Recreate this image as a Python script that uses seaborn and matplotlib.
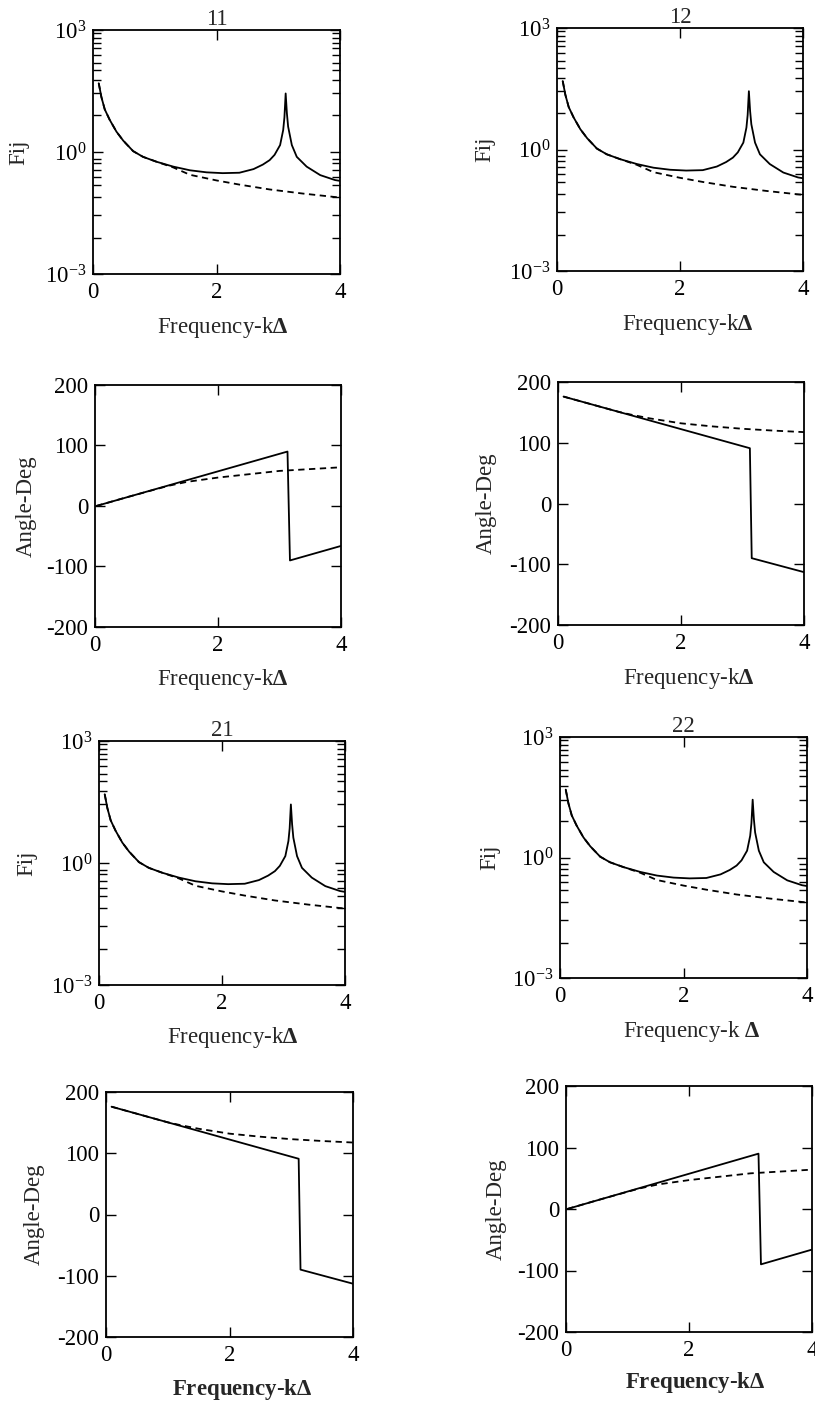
import numpy as np
import pandas as pd
import matplotlib
matplotlib.use("Agg")
import matplotlib.pyplot as plt
from matplotlib.ticker import FixedLocator, FixedFormatter, NullLocator, NullFormatter
import seaborn as sns

sns.set_style("ticks")
plt.rcParams["font.family"] = ["Liberation Serif", "DejaVu Serif"]
plt.rcParams["mathtext.fontset"] = "custom"
plt.rcParams["mathtext.rm"] = "Liberation Serif"
plt.rcParams["mathtext.bf"] = "Liberation Serif:bold"
plt.rcParams["mathtext.it"] = "Liberation Serif:italic"

# ---------------- data ----------------
# magnitude |Fij|, solid curve
mag_x = [0.093, 0.136, 0.19, 0.27, 0.38, 0.49, 0.65, 0.81, 1.03, 1.30, 1.57, 1.84,
         2.10, 2.37, 2.60, 2.75, 2.86, 2.94, 3.03, 3.08, 3.10, 3.12, 3.14, 3.16,
         3.22, 3.30, 3.46, 3.68, 3.92, 4.00]
mag_solid = [49.0, 22.4, 11.2, 6.2, 3.16, 1.9, 1.05, 0.76, 0.575, 0.437, 0.355, 0.316,
             0.302, 0.309, 0.38, 0.49, 0.63, 0.85, 1.48, 3.47, 7.1, 27.5, 8.9, 4.2,
             1.48, 0.76, 0.437, 0.27, 0.204, 0.195]
# magnitude, dashed curve
magd_x = [0.093, 0.136, 0.19, 0.27, 0.38, 0.49, 0.65, 0.81, 1.03, 1.30, 1.57, 2.00,
          2.37, 2.86, 3.40, 3.89, 4.00]
mag_dashed = [49.0, 22.4, 11.2, 6.2, 3.16, 1.9, 1.05, 0.76, 0.575, 0.417, 0.275, 0.20,
              0.158, 0.12, 0.095, 0.079, 0.076]

# phase, panels 11 and 22
ph_a_x = [0.02, 3.13, 3.17, 4.00]
ph_a_solid = [0.0, 90.0, -90.0, -66.0]
ph_a_dx = [0.02, 0.50, 1.00, 1.20, 1.50, 2.00, 2.50, 3.00, 3.50, 4.00]
ph_a_dashed = [0.0, 14.0, 28.0, 33.5, 40.0, 47.0, 52.5, 58.0, 61.0, 64.0]

# phase, panels 12 and 21
ph_b_x = [0.09, 3.12, 3.15, 4.00]
ph_b_solid = [176.0, 91.0, -90.0, -113.0]
ph_b_dx = [0.09, 0.50, 1.00, 1.20, 1.50, 2.00, 2.50, 3.00, 3.50, 4.00]
ph_b_dashed = [176.0, 164.5, 150.5, 146.0, 140.0, 132.0, 127.0, 123.0, 120.0, 117.5]

panel_titles = ["11", "12", "21", "22"]
x_ticks = [0, 2, 4]
mag_ticks = [1e-3, 1e0, 1e3]
mag_tick_labels = [r"$10^{-3}$", r"$10^{0}$", r"$10^{3}$"]
ang_ticks = [-200, -100, 0, 100, 200]
ang_tick_labels = ["-200", "-100", "0", "100", "200"]

# ---------------- layout ----------------
W, H = 815, 1402
fig = plt.figure(figsize=(W / 100, H / 100), dpi=100)

def rect(L, R, T, B):
    return [L / W, 1 - B / H, (R - L) / W, (B - T) / H]

# minor tick exponents for the log axes (style)
minor_exp = [2.92, 2.80, 2.67, 2.55, 2.39, 2.18, 2.02, 1.77, 1.44, 0.91,
             -0.16, -0.28, -0.44, -0.61, -0.81, -1.10, -1.55, -2.12]

FS = 16.5

def style(ax):
    for s in ax.spines.values():
        s.set_linewidth(1.3)
        s.set_color("black")
        s.set_visible(True)
    ax.tick_params(which="both", direction="in", top=True, right=True,
                   colors="black", labelsize=FS, width=1.0)
    ax.tick_params(which="major", length=7)
    ax.tick_params(which="minor", length=6)
    ax.tick_params(axis="x", pad=6)
    ax.tick_params(axis="y", pad=5)
    ax.set_xlim(0, 4)
    ax.set_xticks(x_ticks)
    ax.set_xticklabels([str(t) for t in x_ticks])
    ax.xaxis.set_minor_locator(NullLocator())

def draw(ax, xs, ys, xd, yd):
    sns.lineplot(x=xs, y=ys, ax=ax, color="black", lw=1.3, sort=False,
                 estimator=None, errorbar=None)
    sns.lineplot(x=xd, y=yd, ax=ax, color="black", lw=1.3, sort=False,
                 estimator=None, errorbar=None, linestyle=(0, (3.5, 2.5)))

def mag_panel(r, title, ylpos_x, xl, xlpos, bold=False):
    ax = fig.add_axes(rect(*r))
    draw(ax, mag_x, mag_solid, magd_x, mag_dashed)
    ax.set_yscale("log")
    ax.set_ylim(1e-3, 1e3)
    style(ax)
    ax.yaxis.set_major_locator(FixedLocator(mag_ticks))
    ax.yaxis.set_major_formatter(FixedFormatter(mag_tick_labels))
    ax.yaxis.set_minor_locator(FixedLocator([10 ** e for e in minor_exp]))
    ax.yaxis.set_minor_formatter(NullFormatter())
    ax.set_ylabel("Fij", fontsize=FS, va="center")
    ax.yaxis.set_label_coords(ylpos_x, 0.5)
    ax.set_xlabel(xl, fontsize=FS, va="center", fontweight="bold" if bold else "normal")
    ax.xaxis.set_label_coords(xlpos[0], xlpos[1])
    ax.text(0.5, 1.043, title, transform=ax.transAxes, ha="center", va="center",
            fontsize=FS)
    return ax

def ang_panel(r, xs, ys, xd, yd, ylpos_x, xl, xlpos, bold=False):
    ax = fig.add_axes(rect(*r))
    draw(ax, xs, ys, xd, yd)
    ax.set_ylim(-200, 200)
    style(ax)
    ax.set_yticks(ang_ticks)
    ax.set_yticklabels(ang_tick_labels)
    ax.set_ylabel("Angle-Deg", fontsize=FS, va="center")
    ax.yaxis.set_label_coords(ylpos_x, 0.5)
    ax.set_xlabel(xl, fontsize=FS, va="center", fontweight="bold" if bold else "normal")
    ax.xaxis.set_label_coords(xlpos[0], xlpos[1])
    return ax

XL = r"Frequency-k$\mathbf{\Delta}$"
XL_SP = r"Frequency-k $\mathbf{\Delta}$"

mag_panel((93, 340, 30, 274), panel_titles[0], -0.30, XL, (0.524, -0.221))
mag_panel((557, 803, 28, 271), panel_titles[1], -0.295, XL, (0.53, -0.222))
ang_panel((95, 341, 385, 627), ph_a_x, ph_a_solid, ph_a_dx, ph_a_dashed, -0.28, XL,
          (0.52, -0.219))
ang_panel((558, 804, 382, 625), ph_b_x, ph_b_solid, ph_b_dx, ph_b_dashed, -0.29, XL,
          (0.53, -0.219))
mag_panel((99, 345, 741, 985), panel_titles[2], -0.295, XL, (0.545, -0.217))
mag_panel((560, 807, 737, 978), panel_titles[3], -0.285, XL_SP, (0.534, -0.224))
ang_panel((106, 353, 1092, 1337), ph_b_x, ph_b_solid, ph_b_dx, ph_b_dashed, -0.29, XL,
          (0.553, -0.216), bold=True)
ang_panel((566, 812, 1086, 1332), ph_a_x, ph_a_solid, ph_a_dx, ph_a_dashed, -0.285, XL,
          (0.524, -0.207), bold=True)

fig.savefig("out.png", dpi=100, facecolor="white")
